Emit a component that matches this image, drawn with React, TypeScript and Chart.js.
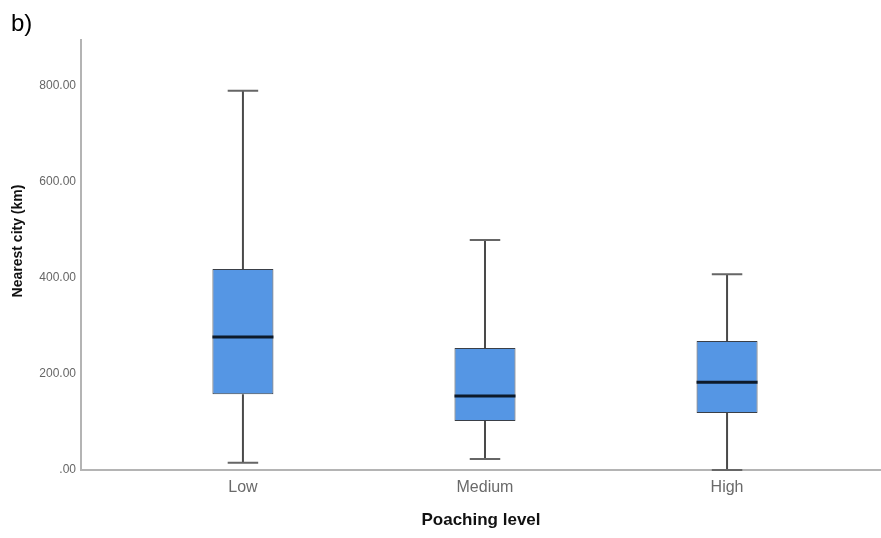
import React, { useEffect, useRef } from "react";
import { Chart, registerables } from "chart.js";

Chart.register(...registerables);

const categories = ["Low", "Medium", "High"];
const positions = [1, 2, 3];
const whiskerMin = [15, 23, 0];
const q1 = [158, 102, 119];
const median = [277, 154, 183];
const q3 = [419, 254, 269];
const whiskerMax = [790, 479, 408];
const yTicks = [0, 200, 400, 600, 800];

const FONT = "'Liberation Sans', Arial, sans-serif";

const boxExtras = {
  id: "boxExtras",
  afterDatasetsDraw(chart: any) {
    const { ctx, scales } = chart;
    const x = scales.x;
    const y = scales.y;
    const meta = chart.getDatasetMeta(0);
    ctx.save();
    positions.forEach((p, i) => {
      const cx = x.getPixelForValue(p);
      const bar = meta.data[i];
      const half = bar.width / 2;
      const capHalf = half / 2;
      const yMin = y.getPixelForValue(whiskerMin[i]);
      const yQ1 = y.getPixelForValue(q1[i]);
      const yQ3 = y.getPixelForValue(q3[i]);
      const yMax = y.getPixelForValue(whiskerMax[i]);
      const yMed = y.getPixelForValue(median[i]);
      ctx.strokeStyle = "#4a4a4a";
      ctx.lineWidth = 2;
      ctx.beginPath();
      ctx.moveTo(cx, yQ3);
      ctx.lineTo(cx, yMax);
      ctx.moveTo(cx, yQ1);
      ctx.lineTo(cx, yMin);
      ctx.stroke();
      ctx.strokeStyle = "#666";
      ctx.lineWidth = 2;
      ctx.beginPath();
      ctx.moveTo(cx - capHalf, yMax);
      ctx.lineTo(cx + capHalf, yMax);
      ctx.moveTo(cx - capHalf, yMin);
      ctx.lineTo(cx + capHalf, yMin);
      ctx.stroke();
      ctx.strokeStyle = "#0d1a2a";
      ctx.lineWidth = 3;
      ctx.beginPath();
      ctx.moveTo(cx - half, yMed);
      ctx.lineTo(cx + half, yMed);
      ctx.stroke();
    });
    ctx.restore();
  },
  afterDraw(chart: any) {
    const { ctx } = chart;
    ctx.save();
    ctx.fillStyle = "#000";
    ctx.font = `24px ${FONT}`;
    ctx.textAlign = "left";
    ctx.textBaseline = "alphabetic";
    ctx.fillText("b)", 11, 31);
    ctx.translate(18, 241);
    ctx.rotate(-Math.PI / 2);
    ctx.font = `bold 14px ${FONT}`;
    ctx.fillStyle = "#111";
    ctx.textAlign = "center";
    ctx.textBaseline = "middle";
    ctx.fillText("Nearest city (km)", 0, 0);
    ctx.restore();
  },
};

export default function App() {
  const ref = useRef<HTMLCanvasElement | null>(null);
  useEffect(() => {
    if (!ref.current) return;
    const chart = new Chart(ref.current, {
      type: "bar",
      data: {
        datasets: [
          {
            label: "Nearest city (km)",
            data: positions.map((p, i) => ({ x: p, y: [q1[i], q3[i]] })) as any,
            backgroundColor: "#5596e4",
            borderColor: "#3a3f47",
            borderWidth: 1,
            borderSkipped: false,
            barPercentage: 0.252,
            categoryPercentage: 1,
          },
        ],
      },
      options: {
        responsive: false,
        animation: false,
        layout: { padding: { top: 40, right: 0, left: 0, bottom: 0 } },
        plugins: {
          legend: { display: false },
          tooltip: { enabled: false },
          title: { display: false },
        },
        scales: {
          x: {
            type: "linear",
            offset: false,
            min: 0.331,
            max: 3.636,
            grid: { display: false, drawTicks: false },
            border: { display: true, color: "#b4b4b4", width: 2 },
            afterBuildTicks: (s: any) => {
              s.ticks = positions.map((v) => ({ value: v }));
            },
            afterFit: (s: any) => {
              s.height = 68;
            },
            ticks: {
              padding: 8,
              color: "#6a6a6a",
              font: { family: FONT, size: 16 },
              callback: (v: any) => categories[positions.indexOf(Number(v))] ?? "",
            },
            title: {
              display: true,
              text: "Poaching level",
              color: "#111",
              font: { family: FONT, size: 17, weight: "bold" },
              padding: { top: 0, bottom: 7 },
            },
          },
          y: {
            type: "linear",
            min: 0,
            max: 896,
            grid: { display: false, drawTicks: false },
            border: { display: true, color: "#b4b4b4", width: 2 },
            afterBuildTicks: (s: any) => {
              s.ticks = yTicks.map((v) => ({ value: v }));
            },
            afterFit: (s: any) => {
              s.width = 81;
            },
            ticks: {
              padding: 5,
              color: "#666",
              font: { family: FONT, size: 12 },
              callback: (v: any) => (Number(v) === 0 ? ".00" : Number(v).toFixed(2)),
            },
          },
        },
      },
      plugins: [boxExtras],
    });
    return () => chart.destroy();
  }, []);
  return (
    <div style={{ position: "absolute", left: 0, top: 0, width: 881, height: 538, background: "#fff" }}>
      <canvas ref={ref} width={881} height={538} />
    </div>
  );
}
